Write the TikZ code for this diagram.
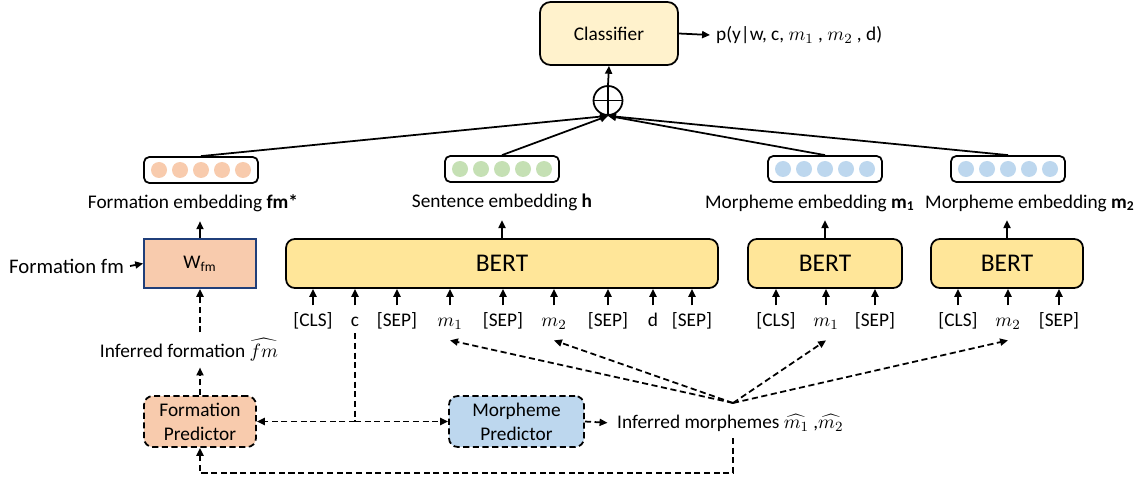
\documentclass[tikz,border=0pt]{standalone}
\usepackage{fontspec}
\setmainfont{Carlito}
\usetikzlibrary{arrows.meta}

\definecolor{fmorange}{HTML}{F8CBAD}
\definecolor{sentgreen}{HTML}{C5E0B4}
\definecolor{morphblue}{HTML}{BDD7EE}
\definecolor{bertyellow}{HTML}{FFE699}
\definecolor{clscream}{HTML}{FFF2CC}
\definecolor{wborder}{HTML}{203F7A}

\tikzset{
  arr/.style={-{Triangle[length=4.5pt,width=4pt]}, line width=1pt},
  dline/.style={line width=1pt, dash pattern=on 3.5pt off 2pt},
  darr/.style={arr, dash pattern=on 3.5pt off 2pt},
  embbox/.style={draw, line width=1pt, rounded corners=3pt, fill=white,
    minimum width=2.28cm, minimum height=0.52cm},
  bertbox/.style={draw, line width=1pt, rounded corners=5pt, fill=bertyellow,
    minimum height=0.98cm, font=\fontsize{14.5}{16}\selectfont},
  predbox/.style={draw, line width=1pt, dash pattern=on 3.5pt off 2pt,
    rounded corners=5pt, minimum height=1.02cm, align=center, inner sep=1pt},
  tok/.style={inner sep=1pt, text height=8pt, text depth=2.5pt},
}

\begin{document}
\begin{tikzpicture}[x=0.02cm, y=-0.02cm, font=\fontsize{11}{13.6}\selectfont]
    \useasboundingbox (0,0) rectangle (1141,479);

    % classifier and sum
    \node[draw, line width=1pt, rounded corners=6pt, fill=clscream,
      minimum width=2.76cm, minimum height=1.26cm] (cls) at (609,33.5) {Classifier};
    \node[anchor=west] (out) at (710,35) {p(y|w, c, $m_1$ , $m_2$ , d)};
    \draw[arr] (cls.east) -- (out.west);
    \node[draw, circle, line width=1pt, minimum size=0.58cm, inner sep=0] (sum) at (608,100.5) {};
    \draw[line width=1pt] (sum.north) -- (sum.south) (sum.west) -- (sum.east);
    \draw[arr] (sum.north) -- (cls.south);

    % embeddings
    \node[embbox] (efm) at (201,170) {};
    \node[embbox] (eh) at (502,169) {};
    \node[embbox] (em1) at (825,169) {};
    \node[embbox] (em2) at (1008,169) {};
    \foreach \e/\c in {efm/fmorange, eh/sentgreen, em1/morphblue, em2/morphblue}
    {
        \foreach \i in {-2,...,2}
            \fill[\c] ([xshift=\i*0.42cm]\e.center) circle (0.16cm);
        \draw[arr] (\e.north) -- (sum.south);
    }
    \node (efmlab) at (193,203) {Formation embedding \textbf{fm*}};
    \node (ehlab) at (502,202) {Sentence embedding \textbf{h}};
    \node[anchor=west] (em1lab) at (699,203) {Morpheme embedding \textbf{m}\textsubscript{\textbf{1}}};
    \node[anchor=west] (em2lab) at (919,203) {Morpheme embedding \textbf{m}\textsubscript{\textbf{2}}};

    % encoders
    \node[draw=wborder, line width=1pt, fill=fmorange, minimum width=2.24cm,
      minimum height=0.98cm] (wfm) at (200,263.5) {W\textsubscript{fm}};
    \node[bertbox, minimum width=8.64cm] (bert) at (502,263.5) {BERT};
    \node[bertbox, minimum width=3.08cm] (bertb) at (825,263.5) {BERT};
    \node[bertbox, minimum width=3.04cm] (bertc) at (1007,263.5) {BERT};
    \draw[arr, shorten >=2pt] (wfm.north) -- (wfm.north |- efmlab.south);
    \draw[arr, shorten >=2pt] (bert.north) -- (bert.north |- ehlab.south);
    \draw[arr, shorten >=2pt] (bertb.north) -- (bertb.north |- ehlab.south);
    \draw[arr, shorten >=2pt] (bertc.north) -- (bertc.north |- ehlab.south);

    \node[anchor=west, font=\fontsize{11.8}{14}\selectfont] (fmin) at (3,266) {Formation fm};
    \draw[arr] (fmin.east) -- (wfm.west);

    % input tokens
    \foreach \x/\t/\n in {313/[CLS]/cls, 355/c/c, 397/[SEP]/sepa, 450/$m_1$/ma,
      503/[SEP]/sepb, 554/$m_2$/mb, 608/[SEP]/sepc, 653/d/d, 692/[SEP]/sepd}
    {
        \node[tok] (t\n) at (\x,322) {\t};
        \draw[arr, shorten <=3pt] (t\n.north) -- (t\n.north |- bert.south);
    }
    \foreach \x/\t/\n in {776/[CLS]/clsb, 826/$m_1$/mc, 875/[SEP]/sepe}
    {
        \node[tok] (t\n) at (\x,322) {\t};
        \draw[arr, shorten <=3pt] (t\n.north) -- (t\n.north |- bertb.south);
    }
    \foreach \x/\t/\n in {958/[CLS]/clsc, 1008/$m_2$/md, 1059/[SEP]/sepf}
    {
        \node[tok] (t\n) at (\x,322) {\t};
        \draw[arr, shorten <=3pt] (t\n.north) -- (t\n.north |- bertc.south);
    }

    % predictors
    \node[predbox, fill=fmorange, minimum width=2.24cm] (fp) at (200,421.5) {Formation\\Predictor};
    \node[predbox, fill=morphblue, minimum width=2.7cm] (mp) at (516.5,421.5) {Morpheme\\Predictor};
    \node (ifm) at (189,350) {Inferred formation $\widehat{fm}$};
    \node[anchor=west] (imorph) at (611,423) {Inferred morphemes $\widehat{m_1}$ ,$\widehat{m_2}$};

    \draw[darr] (fp.north) -- (fp.north |- ifm.south);
    \draw[darr] (wfm.south |- ifm.north) -- (wfm.south);
    \draw[darr, shorten >=2pt] (mp.east) -- (imorph.west);

    \coordinate (cj) at (tc.south |- fp.east);
    \draw[dline] (tc.south) -- (cj);
    \draw[darr] (cj) -- (fp.east);
    \draw[darr] (cj) -- (mp.west);

    \coordinate (fan) at (733,403);
    \foreach \n in {ma, mb, mc, md}
        \draw[darr] (fan) -- ([yshift=-4pt]t\n.south);

    \coordinate (fb) at (733,438);
    \coordinate (fc) at (733,473);
    \draw[darr] (fb) -- (fc) -| (fp.south);

\end{tikzpicture}
\end{document}
